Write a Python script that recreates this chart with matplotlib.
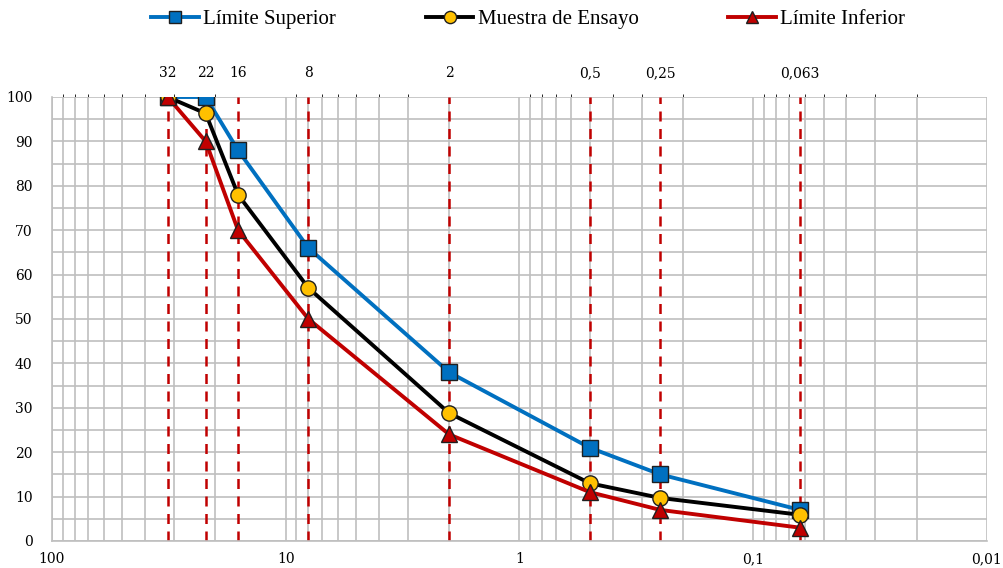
import matplotlib
matplotlib.use("Agg")
import matplotlib.pyplot as plt
from matplotlib.ticker import FixedLocator, LogLocator, MultipleLocator, NullFormatter

sizes = [32, 22, 16, 8, 2, 0.5, 0.25, 0.063]
size_labels = ["32", "22", "16", "8", "2", "0,5", "0,25", "0,063"]
lim_sup = [100, 100, 88, 66, 38, 21, 15, 7]
muestra = [100, 96.3, 78, 57, 28.8, 13, 9.7, 5.9]
lim_inf = [100, 90, 70, 50, 24, 11, 7, 3]
x_ticks = [100, 10, 1, 0.1, 0.01]
x_tick_labels = ["100", "10", "1", "0,1", "0,01"]
y_ticks = list(range(0, 101, 10))

serif = ["DejaVu Serif"]
fig = plt.figure(figsize=(10.04, 5.68), dpi=100)
ax = fig.add_axes([52/1004, 27/568, 935/1004, 444/568])
ax.set_xscale("log")
ax.set_xlim(100, 0.01)
ax.set_ylim(0, 100)

grid_c = "#bfbfbf"
ax.xaxis.set_major_locator(FixedLocator(x_ticks))
ax.xaxis.set_minor_locator(LogLocator(base=10, subs=range(2, 10)))
ax.xaxis.set_minor_formatter(NullFormatter())
ax.set_xticks(x_ticks)
ax.set_xticklabels(x_tick_labels, fontfamily=serif, fontsize=10)
ax.yaxis.set_major_locator(FixedLocator(y_ticks))
ax.yaxis.set_minor_locator(MultipleLocator(5))
ax.set_yticklabels([str(v) for v in y_ticks], fontfamily=serif, fontsize=10)
ax.grid(which="both", color=grid_c, linewidth=1.2)
ax.set_axisbelow(True)
ax.tick_params(which="both", length=0)
ax.tick_params(axis="x", pad=8)
ax.tick_params(axis="y", pad=14)
for s in ax.spines.values():
    s.set_color(grid_c)
    s.set_linewidth(1.2)
ax.spines["top"].set_visible(False)
ax.spines["right"].set_visible(False)

for s in sizes:
    ax.axvline(s, color="#c00000", linestyle=(0, (4, 3)), linewidth=1.8, zorder=2)

ax.plot(sizes, lim_sup, color="#0070c0", linewidth=2.8, marker="s", markersize=11,
        markerfacecolor="#0070c0", markeredgecolor="#1f1f1f", markeredgewidth=1, label="Límite Superior", zorder=3)
ax.plot(sizes, muestra, color="black", linewidth=2.8, marker="o", markersize=11,
        markerfacecolor="#ffc000", markeredgecolor="#1f1f1f", markeredgewidth=1, label="Muestra de Ensayo", zorder=4)
ax.plot(sizes, lim_inf, color="#c00000", linewidth=2.8, marker="^", markersize=11,
        markerfacecolor="#c00000", markeredgecolor="#1f1f1f", markeredgewidth=1, label="Límite Inferior", zorder=5)

top = ax.secondary_xaxis("top")
top.set_xticks(sizes)
top.set_xticklabels(size_labels, fontfamily=serif, fontsize=10)
top.tick_params(length=0, pad=12)
top.spines["top"].set_visible(False)

leg = fig.legend(loc="center", bbox_to_anchor=(0.526, 0.966), ncol=3, frameon=False,
                 prop={"family": "Liberation Serif", "size": 15}, handlelength=2.3,
                 handletextpad=0.2, columnspacing=4.3, markerscale=0.8)
fig.savefig("out.png", dpi=100)
